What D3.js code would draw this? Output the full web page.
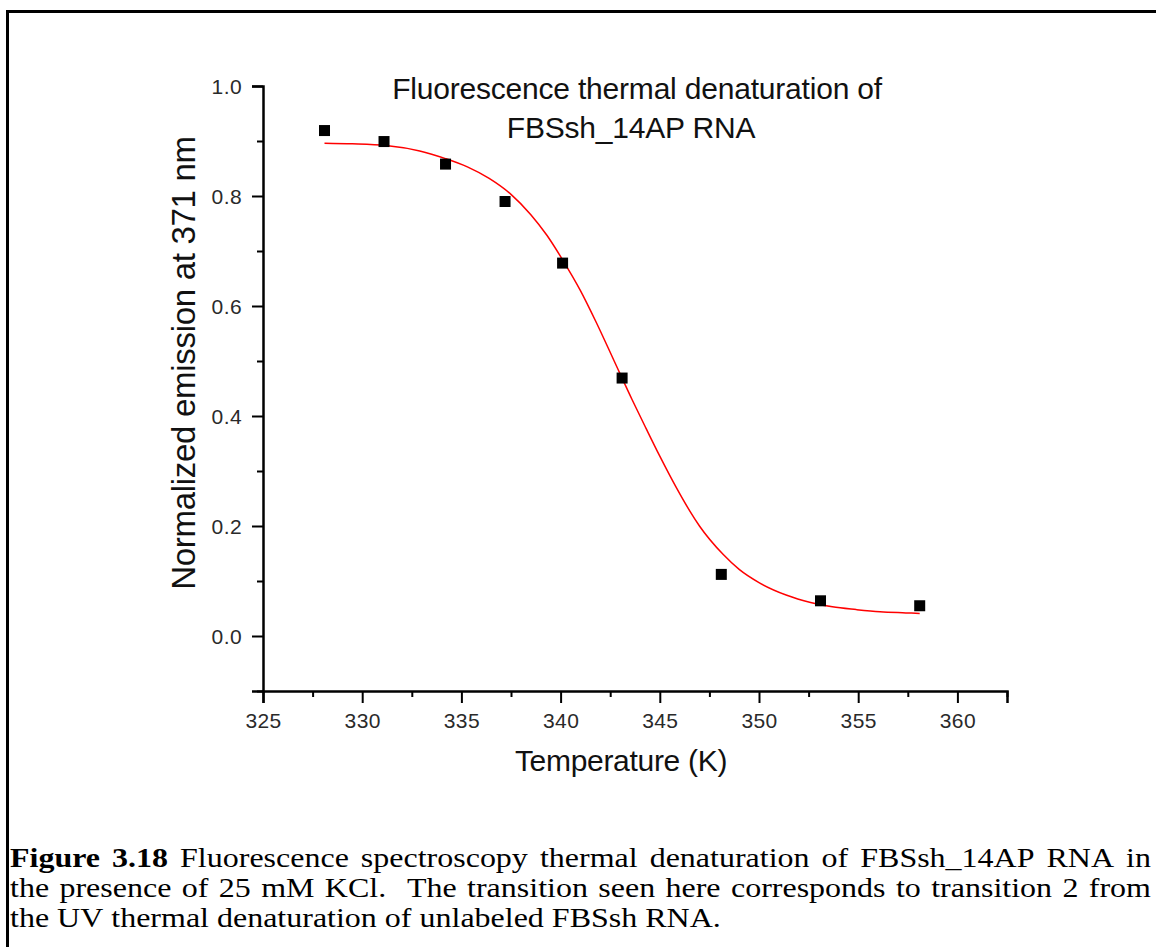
<!DOCTYPE html>
<html>
<head>
<meta charset="utf-8">
<script src="https://cdn.jsdelivr.net/npm/d3@7"></script>
<style>
  body { margin: 0; background: #fff; overflow: hidden; }
</style>
</head>
<body>
<div id="plot"></div>
<script>
// Measured points (temperature in K, normalized emission)
const temps = [328.1, 331.1, 334.2, 337.2, 340.1, 343.1, 348.1, 353.1, 358.1];
const emission = [0.919, 0.899, 0.858, 0.790, 0.678, 0.469, 0.112, 0.064, 0.055];

// Fit curve
const fitTemps = [328.1, 329.5, 331.2, 332.9, 334.2, 335.3, 336.4, 337.5, 338.5, 339.3,
  340.1, 341.0, 341.8, 342.7, 343.6, 344.3, 345.0, 345.8, 346.5, 347.0,
  348.2, 349.0, 350.0, 351.4, 352.6, 353.7, 354.9, 356.1, 357.4, 358.1];
const fitValues = [0.896, 0.895, 0.892, 0.882, 0.868, 0.853, 0.832, 0.803, 0.766, 0.729,
  0.684, 0.628, 0.570, 0.500, 0.430, 0.378, 0.327, 0.272, 0.228, 0.200,
  0.148, 0.121, 0.097, 0.074, 0.061, 0.053, 0.048, 0.044, 0.042, 0.041];

const xTicks = [325, 330, 335, 340, 345, 350, 355, 360];
const yTicks = [0.0, 0.2, 0.4, 0.6, 0.8, 1.0];

const titleLines = ["Fluorescence thermal denaturation of", "FBSsh_14AP RNA"];
const xLabel = "Temperature (K)";
const yLabel = "Normalized emission at 371 nm";

const captionLines = [
  { words: [["Figure", true], ["3.18", true], ["Fluorescence"], ["spectroscopy"], ["thermal"], ["denaturation"], ["of"], ["FBSsh_14AP"], ["RNA"], ["in"]], justify: 1151 },
  { words: [["the"], ["presence"], ["of"], ["25"], ["mM"], ["KCl.", false, 2], ["The"], ["transition"], ["seen"], ["here"], ["corresponds"], ["to"], ["transition"], ["2"], ["from"]], justify: 1151 },
  { words: [["the"], ["UV"], ["thermal"], ["denaturation"], ["of"], ["unlabeled"], ["FBSsh"], ["RNA."]], justify: null }
];

const width = 1156;
const height = 947;

const svg = d3.select("#plot")
  .append("svg")
  .attr("width", width)
  .attr("height", height);

// Outer frame (runs off the right and bottom edges)
svg.append("rect")
  .attr("x", 7.5)
  .attr("y", 11.5)
  .attr("width", 2000)
  .attr("height", 2000)
  .attr("fill", "none")
  .attr("stroke", "#000")
  .attr("stroke-width", 3);

// Scales
const x = d3.scaleLinear().domain([325, 362.5]).range([263, 1007]);
const y = d3.scaleLinear().domain([-0.1, 1.0]).range([691, 86]);

const sans = "'Liberation Sans', Arial, sans-serif";

// X axis
svg.append("g")
  .attr("transform", `translate(0, ${y(-0.1)})`)
  .call(d3.axisBottom(x).tickValues(xTicks).tickSize(12).tickPadding(10).tickFormat(d3.format("d")));

svg.append("g")
  .attr("transform", `translate(0, ${y(-0.1)})`)
  .call(d3.axisBottom(x).tickValues(d3.range(327.5, 363, 5)).tickSize(6).tickFormat(""))
  .call(g => g.select(".domain").remove());

// Y axis
const yAxis = svg.append("g")
  .attr("transform", `translate(${x(325)}, 0)`)
  .call(d3.axisLeft(y).tickValues(yTicks).tickSize(11).tickPadding(10).tickFormat(d3.format(".1f")));

svg.append("g")
  .attr("transform", `translate(${x(325)}, 0)`)
  .call(d3.axisLeft(y).tickValues([-0.1, 0.1, 0.3, 0.5, 0.7, 0.9]).tickSize(6).tickFormat(""))
  .call(g => g.select(".domain").remove());

svg.selectAll(".domain").attr("stroke-width", 2.5).attr("stroke", "#000");
svg.selectAll(".tick line").attr("stroke-width", 2).attr("stroke", "#000");
svg.selectAll(".tick text")
  .attr("font-family", sans)
  .attr("font-size", 21)
  .attr("letter-spacing", 0.4)
  .attr("fill", "#2a2a2a");
yAxis.selectAll(".tick text").attr("dy", "0.36em");

// Axis titles
svg.append("text")
  .attr("x", 621)
  .attr("y", 771)
  .attr("text-anchor", "middle")
  .attr("font-family", sans)
  .attr("font-size", 30)
  .attr("letter-spacing", -0.3)
  .attr("fill", "#111")
  .text(xLabel);

svg.append("text")
  .attr("transform", `translate(195, 363) rotate(-90)`)
  .attr("text-anchor", "middle")
  .attr("font-family", sans)
  .attr("font-size", 33)
  .attr("letter-spacing", -0.3)
  .attr("fill", "#111")
  .text(yLabel);

// Chart title
svg.append("g").selectAll("text")
  .data(titleLines)
  .enter().append("text")
  .attr("x", (d, i) => i === 0 ? 637 : 631)
  .attr("y", (d, i) => 99 + i * 39)
  .attr("text-anchor", "middle")
  .attr("font-family", sans)
  .attr("font-size", 30)
  .attr("letter-spacing", -0.2)
  .attr("fill", "#111")
  .text(d => d);

// Fit line
const line = d3.line()
  .x(d => x(d[0]))
  .y(d => y(d[1]))
  .curve(d3.curveMonotoneX);

svg.append("path")
  .datum(d3.zip(fitTemps, fitValues))
  .attr("d", line)
  .attr("fill", "none")
  .attr("stroke", "#ff0000")
  .attr("stroke-width", 1.5);

// Data squares
const size = 11;
svg.append("g").selectAll("rect")
  .data(d3.zip(temps, emission))
  .enter().append("rect")
  .attr("x", d => x(d[0]) - size / 2)
  .attr("y", d => y(d[1]) - size / 2)
  .attr("width", size)
  .attr("height", size)
  .attr("fill", "#000");

// Caption, laid out word by word so the first two lines are justified
const serif = "'Liberation Serif', 'Times New Roman', serif";
const capSize = 27;
const capStretch = 32 / 27;   // glyphs in the reference are wider than tall
const capLeft = 10;
const spaceW = capSize * 0.25;

captionLines.forEach((ln, li) => {
  const g = svg.append("g")
    .attr("transform", `translate(${capLeft}, ${867 + li * 30}) scale(${capStretch}, 1)`);
  const nodes = ln.words.map(w => g.append("text")
    .attr("font-family", serif)
    .attr("font-size", capSize)
    .attr("font-weight", w[1] ? "bold" : "normal")
    .attr("fill", "#000")
    .text(w[0]));
  const widths = nodes.map(n => n.node().getComputedTextLength());
  const weights = ln.words.slice(0, -1).map(w => w[2] || 1);
  let gap = spaceW;
  if (ln.justify) gap = ((ln.justify - capLeft) / capStretch - d3.sum(widths)) / d3.sum(weights);
  let pos = 0;
  nodes.forEach((n, i) => {
    n.attr("x", pos);
    pos += widths[i] + (i < weights.length ? gap * weights[i] : 0);
  });
});
</script>
</body>
</html>
